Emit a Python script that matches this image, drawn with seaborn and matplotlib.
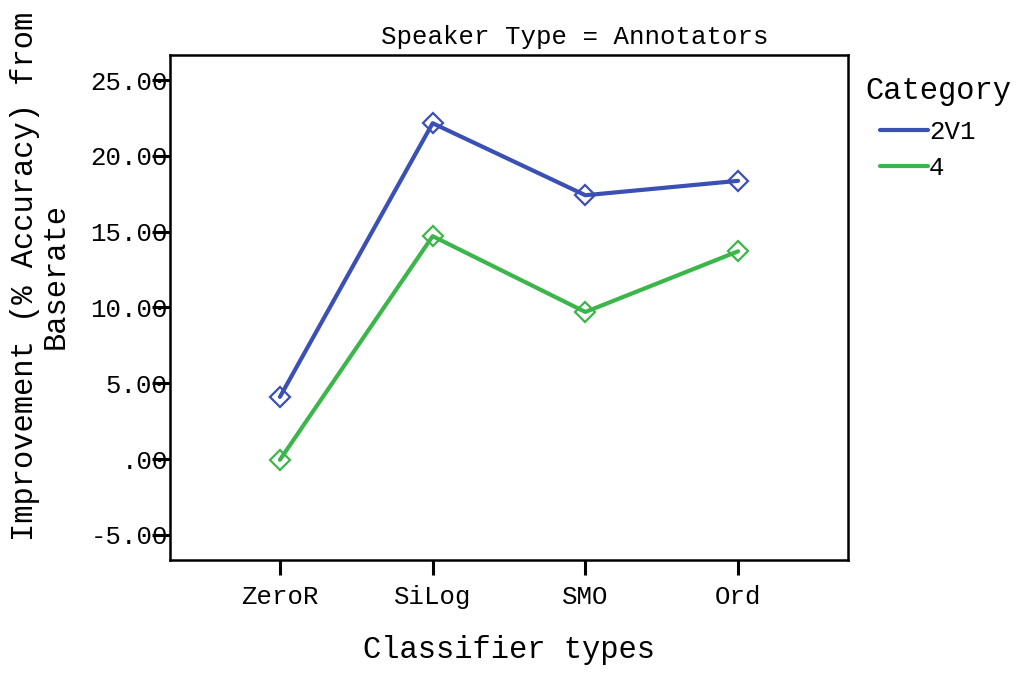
import matplotlib
matplotlib.use("Agg")
import matplotlib.pyplot as plt
from matplotlib.lines import Line2D
from matplotlib.ticker import FuncFormatter
import pandas as pd
import seaborn as sns

classifiers = ["ZeroR", "SiLog", "SMO", "Ord"]
categories = ["2V1", "4"]
improvement_2v1 = [4.1, 22.15, 17.4, 18.35]
improvement_4 = [-0.05, 14.7, 9.7, 13.7]
y_ticks = [-5, 0, 5, 10, 15, 20, 25]

CATEGORY_COLORS = {"2V1": "#3a50b4", "4": "#3cb64b"}
MONO = ["Liberation Mono", "DejaVu Sans Mono"]

sns.set_style("white")
plt.rcParams["font.family"] = MONO
plt.rcParams["text.color"] = "black"
plt.rcParams["axes.labelcolor"] = "black"

df = pd.DataFrame({
    "classifier": classifiers * 2,
    "category": ["2V1"] * 4 + ["4"] * 4,
    "improvement": improvement_2v1 + improvement_4,
})

fig = plt.figure(figsize=(10.24, 6.74), dpi=100)
ax = fig.add_axes([170 / 1024, 1 - 560 / 674, (848 - 170) / 1024, (560 - 55) / 674])

sns.lineplot(data=df, x="classifier", y="improvement", hue="category",
             hue_order=categories, palette=CATEGORY_COLORS, marker="D",
             linewidth=3, markersize=10, legend=False, ax=ax, sort=False)
for line in ax.lines:
    line.set_markerfacecolor("none")
    line.set_markeredgecolor(line.get_color())
    line.set_markeredgewidth(1.6)

ax.set_xlim(-0.72, 3.72)
ax.set_ylim(-6.66, 26.65)
ax.set_yticks(y_ticks)
ax.yaxis.set_major_formatter(FuncFormatter(
    lambda v, _: ".00" if abs(v) < 1e-9 else f"{v:.2f}"))

for spine in ax.spines.values():
    spine.set_linewidth(1.8)
    spine.set_color("black")
ax.tick_params(axis="y", left=True, direction="out", length=13, width=2.2,
               pad=-11.5, labelsize=18.5, colors="black")
ax.tick_params(axis="x", bottom=True, direction="out", length=11, width=2.2,
               pad=7, labelsize=18.5, colors="black")
ax.set_title("Speaker Type = Annotators", fontsize=18.5, pad=8)
ax.title.set_x((575 - 170) / 678)
ax.set_xlabel("Classifier types", fontsize=22, labelpad=19)
ax.set_ylabel("Improvement (% Accuracy) from\nBaserate", fontsize=22,
              labelpad=14, linespacing=1.05)
ax.yaxis.label.set_y((560 - 276) / 505)

fig.text(865 / 1024, 1 - 91 / 674, "Category", fontsize=22, va="center", ha="left")
handles = [Line2D([], [], color=CATEGORY_COLORS[c], linewidth=3) for c in categories]
fig.legend(handles, categories, loc="upper left",
           bbox_to_anchor=(880 / 1024, 1 - 120 / 674), frameon=False, borderpad=0,
           borderaxespad=0, fontsize=18.5, handlelength=1.85, handletextpad=0.05,
           labelspacing=0.45)

fig.savefig("out.png", dpi=100)
